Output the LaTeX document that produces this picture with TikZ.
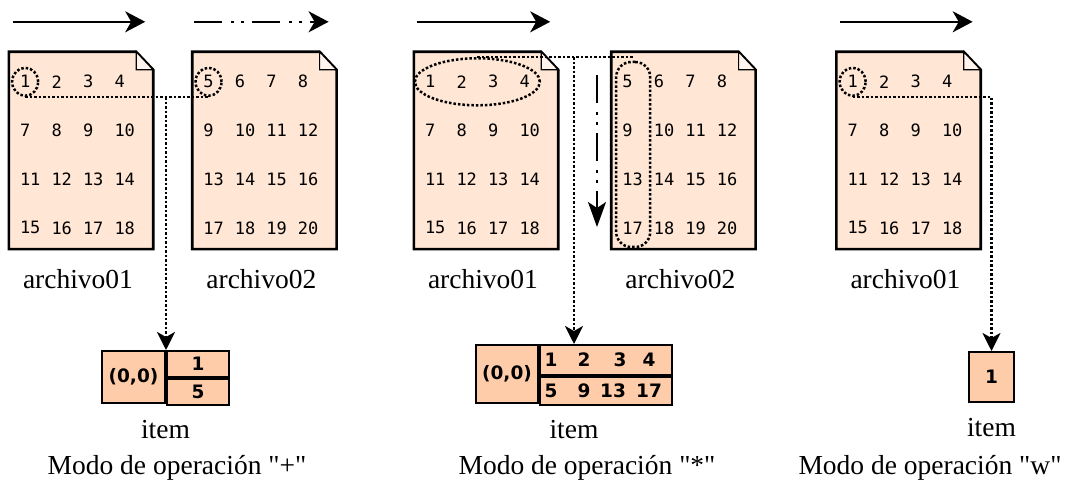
\documentclass[tikz,border=0pt]{standalone}
\usepackage{fontspec}
\setmainfont{Liberation Serif}
\newfontfamily\monofnt{DejaVu Sans Mono}
\newfontfamily\cellfnt{DejaVu Sans}
\usetikzlibrary{shapes,arrows.meta,positioning,calc}

\definecolor{docfill}{HTML}{FFE6D5}
\definecolor{itemfill}{HTML}{FFCCAA}

% straight double quote, kept out of the TeX ligature mapping
\newcommand\dq{\XeTeXglyph\XeTeXcharglyph"0022\relax}

\tikzset{
  docbox/.style={minimum width=144pt, minimum height=197pt, inner sep=0pt},
  docline/.style={line width=2.6pt, fill=docfill, line join=miter},
  foldline/.style={line width=1.2pt, fill=docfill!40},
  num/.style={font=\monofnt\fontsize{17}{20}\selectfont, inner sep=0pt, anchor=west},
  lbl/.style={font=\fontsize{27.5}{30}\selectfont, inner sep=0pt},
  cell/.style={draw, line width=2pt, fill=itemfill, inner sep=0pt, font=\cellfnt\bfseries\fontsize{18.5}{21}\selectfont},
  cellnum/.style={inner sep=0pt, font=\cellfnt\bfseries\fontsize{18.5}{21}\selectfont},
  dotline/.style={line width=2.5pt, dash pattern=on 2.5pt off 2pt},
  dotarrow/.style={dotline, -{Stealth[length=18pt,width=18pt,inset=5pt]}},
  markring/.style={ellipse, dotline, draw, inner sep=0pt, minimum width=26pt, minimum height=28pt},
  markbox/.style={rectangle, rounded corners=15pt, dotline, draw, minimum width=34pt, minimum height=185pt},
  runarrow/.style={line width=2pt, -{Stealth[length=20pt,width=21pt,inset=6pt]}},
  dashdotdot/.style={line width=2pt, dash pattern=on 28pt off 9pt on 3pt off 7pt on 3pt off 8pt},
}

% document outline with folded corner
\newcommand\drawdoc[1]{%
  \draw[docline] (#1.north west) -- ([xshift=-17pt]#1.north east) -- ([yshift=-18pt]#1.north east)
    -- (#1.south east) -- (#1.south west) -- cycle;
  \draw[foldline] ([xshift=-17pt]#1.north east) -- ([xshift=-17pt,yshift=-18pt]#1.north east)
    -- ([yshift=-18pt]#1.north east) -- cycle;
}
% numbers inside a document
\newcommand\fillnums[2]{%
  \foreach \row [count=\r] in #2 {
    \foreach \v [count=\c] in \row {
      \node[num] (#1-\r-\c) at ([xshift={11pt+31.5pt*(\c-1)}, yshift={-30pt-48.7pt*(\r-1)}]#1.north west) {\v};
    }
  }
}
\def\rowsone{{1,2,3,4},{7,8,9,10},{11,12,13,14},{15,16,17,18}}
\def\rowstwo{{5,6,7,8},{9,10,11,12},{13,14,15,16},{17,18,19,20}}

\begin{document}
\begin{tikzpicture}[x=1pt, y=-1pt]
  \useasboundingbox (0,0) rectangle (1072,494);

  % Documents
  \node[docbox] (A1) at (81,150.5) {};
  \node[docbox, right=39pt of A1] (A2) {};
  \node[docbox] (B1) at (486,150.5) {};
  \node[docbox, right=53pt of B1] (B2) {};
  \node[docbox] (C1) at (908.5,150.5) {};
  \foreach \d in {A1,A2,B1,B2,C1} {
    \drawdoc{\d}
  }
  \fillnums{A1}{\rowsone}
  \fillnums{A2}{\rowstwo}
  \fillnums{B1}{\rowsone}
  \fillnums{B2}{\rowstwo}
  \fillnums{C1}{\rowsone}

  % File names
  \node[lbl, below=20pt of A1, xshift=-3pt] (LA1) {archivo01};
  \node[lbl, below=20pt of A2, xshift=-3pt] (LA2) {archivo02};
  \node[lbl, below=20pt of B1, xshift=-3pt] (LB1) {archivo01};
  \node[lbl, below=20pt of B2, xshift=-3pt] (LB2) {archivo02};
  \node[lbl, below=20pt of C1, xshift=-3pt] (LC1) {archivo01};

  % Reading direction
  \draw[runarrow] ([xshift=4pt,yshift=30pt]A1.north west) -- ([xshift=-8pt,yshift=30pt]A1.north east);
  \draw[runarrow, dashdotdot] ([xshift=2pt,yshift=30pt]A2.north west) -- ([xshift=-8pt,yshift=30pt]A2.north east);
  \draw[runarrow] ([xshift=3pt,yshift=30pt]B1.north west) -- ([xshift=-8pt,yshift=30pt]B1.north east);
  \draw[runarrow] ([xshift=4pt,yshift=30pt]C1.north west) -- ([xshift=-8pt,yshift=30pt]C1.north east);
  \coordinate (V1) at (597,75);
  \coordinate (V2) at (597,227);
  \draw[dashdotdot, line width=2pt, -{Stealth[length=25pt,width=18pt,inset=6pt]}] (V1) -- (V2);

  % Item boxes
  \node[cell, minimum width=63pt, minimum height=52pt] (I1a) at (133.5,377) {(0,0)};
  \node[cell, minimum width=62pt, minimum height=26pt, anchor=north west] (I1b) at (I1a.north east) {1};
  \node[cell, minimum width=62pt, minimum height=26pt, anchor=north west] (I1c) at (I1b.south west) {5};

  \node[cell, minimum width=62pt, minimum height=58pt] (I2a) at (507,374) {(0,0)};
  \node[cell, minimum width=132pt, minimum height=30pt, anchor=north west] (I2b) at (I2a.north east) {};
  \node[cell, minimum width=132pt, minimum height=28pt, anchor=north west] (I2c) at (I2b.south west) {};
  \foreach \t/\dt/\b/\db [count=\k] in {1/12/5/12, 2/45/9/45, 3/81/13/74, 4/110/17/110} {
    \node[cellnum] (I2t\k) at ([xshift=\dt pt]I2b.west) {\t};
    \node[cellnum] (I2u\k) at ([xshift=\db pt]I2c.west) {\b};
  }

  \node[cell, minimum width=45pt, minimum height=50pt] (I3) at (991.5,377) {1};

  \node[lbl, anchor=north] (T1) at ($(I1a.south west)!0.5!(I1c.south east)+(0,15)$) {item};
  \node[lbl, anchor=north] (T2) at ($(I2a.south west)!0.5!(I2c.south east)+(0,15)$) {item};
  \node[lbl, anchor=north] (T3) at ($(I3.south)+(0,15)$) {item};

  % Marked values
  \node[markring] (m1) at (A1-1-1.center) {};
  \node[markring] (m2) at (A2-1-1.center) {};
  \node[markring, minimum width=125pt, minimum height=47pt] (E) at ($(B1-1-1.west)!0.5!(B1-1-4.east)$) {};
  \node[markbox] (R) at ($(B2-1-1.west |- B2.center)+(11,4)$) {};
  \node[markring] (m5) at (C1-1-1.center) {};

  % Connections
  \draw[dotline] (m1.south) -- (m2.south);
  \draw[dotarrow] (m1.south -| I1b.north west) -- (I1b.north west);
  \draw[dotline] (E.north) -- (E.north -| R.north);
  \coordinate (J2) at ([xshift=35pt]I2b.north west);
  \draw[dotarrow] (J2 |- E.north) -- (J2);
  \draw[dotarrow] (m5.south) -| (I3.north);

  % Modes
  \node[lbl, anchor=base] (M1) at (177,475) {Modo de operación \dq+\dq};
  \node[lbl, anchor=base] (M2) at (587,475) {Modo de operación \dq*\dq};
  \node[lbl, anchor=base] (M3) at (930,475) {Modo de operación \dq w\dq};
\end{tikzpicture}
\end{document}
